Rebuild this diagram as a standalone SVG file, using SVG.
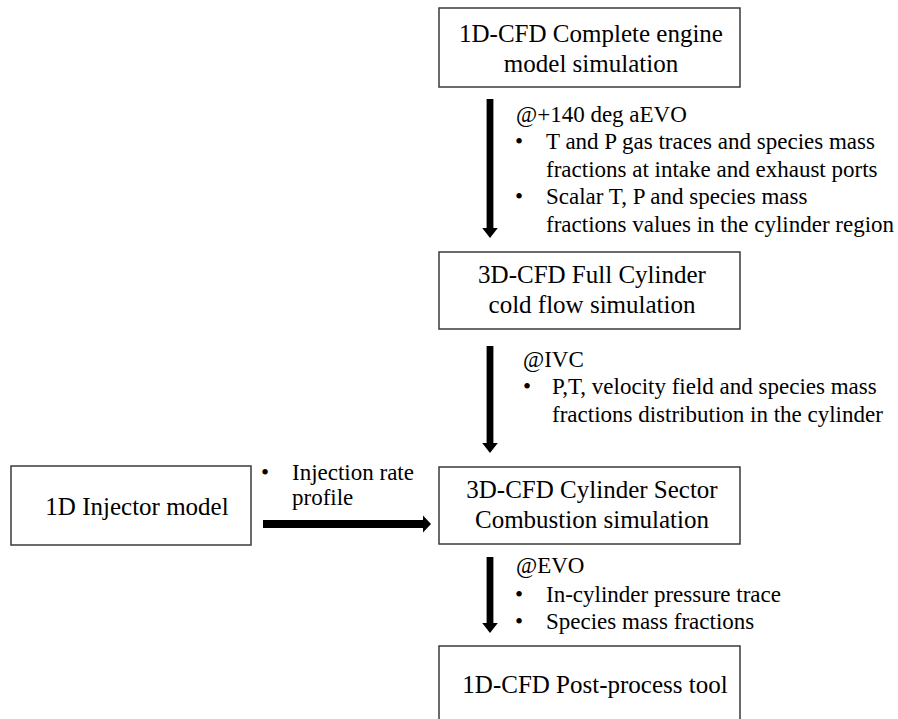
<svg xmlns="http://www.w3.org/2000/svg" width="898" height="719" viewBox="0 0 898 719">
<style>
.box{fill:#fff;stroke:#3a3a3a;stroke-width:1.5}
.bt{font-family:"Liberation Serif","Times New Roman",serif;font-size:25px;fill:#000;text-anchor:middle}
.lt{font-family:"Liberation Serif","Times New Roman",serif;font-size:23px;fill:#000}
.arr{fill:#000}
</style>
<rect width="898" height="719" fill="#fff"/>
<g id="n1"><rect class="box" x="439" y="8" width="301" height="79"/>
<text class="bt" x="591" y="42">1D-CFD Complete engine</text>
<text class="bt" x="591" y="72">model simulation</text></g>
<g id="n2"><rect class="box" x="439" y="252" width="301" height="77"/>
<text class="bt" x="592" y="283">3D-CFD Full Cylinder</text>
<text class="bt" x="592" y="313">cold flow simulation</text></g>
<g id="n3"><rect class="box" x="439" y="467" width="301" height="77"/>
<text class="bt" x="592" y="498">3D-CFD Cylinder Sector</text>
<text class="bt" x="592" y="528">Combustion simulation</text></g>
<g id="n4"><rect class="box" x="439" y="646" width="301" height="90"/>
<text class="bt" x="595" y="693">1D-CFD Post-process tool</text></g>
<g id="n5"><rect class="box" x="11" y="466" width="240" height="79"/>
<text class="bt" x="137" y="515">1D Injector model</text></g>
<g id="connectors">
<path class="arr" d="M486.6 99H493.4V228H497.8L490 238L482.2 228H486.6Z"/>
<path class="arr" d="M486.6 346H493.4V443H497.8L490 453L482.2 443H486.6Z"/>
<path class="arr" d="M486.6 557H493.4V623H497.8L490 633L482.2 623H486.6Z"/>
<path class="arr" d="M263 520H423V515.5L431 524L423 532.5V528H263Z"/>
</g>
<g id="labels">
<text class="lt" x="516" y="122">@+140 deg aEVO</text>
<text class="lt" x="515" y="149">•</text><text class="lt" x="546" y="149">T and P gas traces and species mass</text>
<text class="lt" x="546" y="177">fractions at intake and exhaust ports</text>
<text class="lt" x="515" y="204">•</text><text class="lt" x="546" y="204">Scalar T, P and species mass</text>
<text class="lt" x="546" y="232">fractions values in the cylinder region</text>
<text class="lt" x="523" y="367">@IVC</text>
<text class="lt" x="523" y="394">•</text><text class="lt" x="552" y="394">P,T, velocity field and species mass</text>
<text class="lt" x="552" y="422">fractions distribution in the cylinder</text>
<text class="lt" x="516" y="573">@EVO</text>
<text class="lt" x="515" y="602">•</text><text class="lt" x="546" y="602">In-cylinder pressure trace</text>
<text class="lt" x="515" y="629">•</text><text class="lt" x="546" y="629">Species mass fractions</text>
<text class="lt" x="261" y="480">•</text><text class="lt" x="292" y="480">Injection rate</text>
<text class="lt" x="292" y="505">profile</text>
</g>
</svg>
